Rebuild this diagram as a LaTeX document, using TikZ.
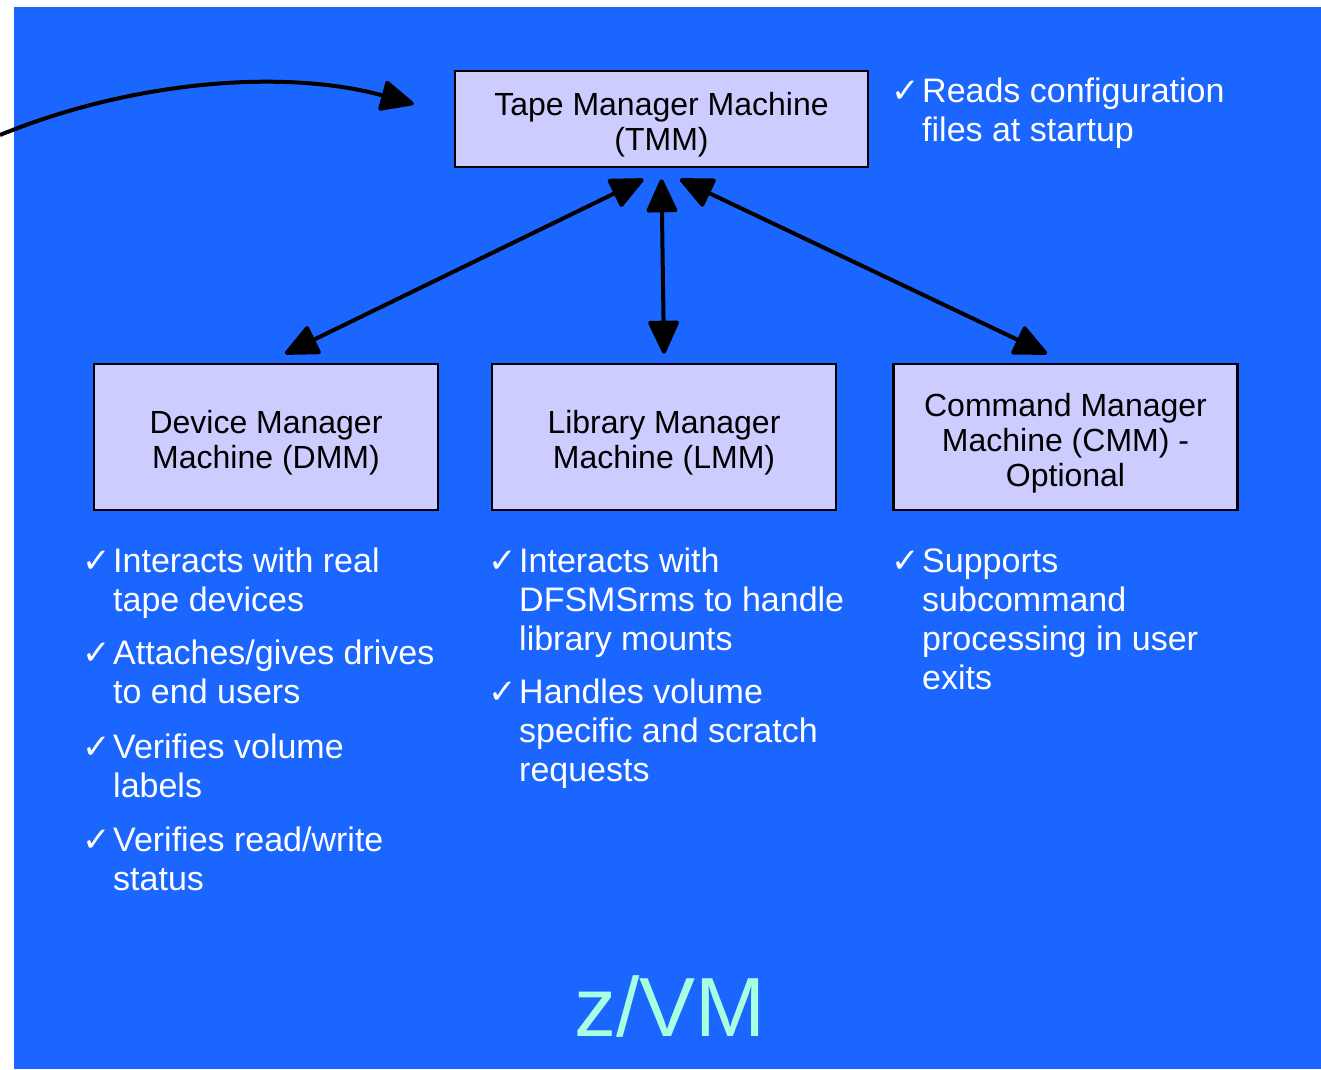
\documentclass[tikz,border=0pt]{standalone}
\usepackage{fontspec}
\setmainfont{Liberation Sans}
\newfontfamily\symfont{DejaVu Sans}
\usetikzlibrary{arrows.meta}

\definecolor{bgblue}{RGB}{26,102,255}
\definecolor{boxfill}{RGB}{204,204,255}
\definecolor{zvmtext}{RGB}{168,255,226}

\newcommand{\chk}{\llap{{\symfont\fontsize{34}{34}\selectfont ✓}\hspace{2pt}}}
\newcommand{\boxstrut}{\rule{0pt}{35pt}}

\begin{document}
\begin{tikzpicture}[x=1pt, y=-1pt,
		machine/.style={draw, line width=2.5pt, fill=boxfill, align=center, inner sep=0pt,
			font={\fontsize{32}{35}\selectfont}},
		link/.style={line width=4pt, line join=round,
			{Triangle[length=36pt,width=32pt,round]}-{Triangle[length=36pt,width=32pt,round]}},
		note/.style={text=white, align=left, anchor=base west, inner sep=0pt,
			font={\fontsize{34}{39}\selectfont}}]
		
		\def \boxw {344}
		\def \boxh {146}
		\def \boxy {437}
		
		\useasboundingbox (0,0) rectangle (1321,1069);
		\fill[bgblue] (14,7) rectangle (1321,1069);
		
		\node[machine, minimum width=413pt, minimum height=96pt] (tmm) at (661.5,119)
			{\boxstrut Tape Manager Machine\\(TMM)};
		
		\foreach \name/\cx/\txt in {dmm/266/{Device Manager\\Machine (DMM)},
			lmm/664/{Library Manager\\Machine (LMM)},
			cmm/1065.5/{Command Manager\\Machine (CMM) -\\Optional}}
		{
			\node[machine, minimum width=\boxw pt, minimum height=\boxh pt] (\name) at (\cx,\boxy)
				{\boxstrut\txt};
		}
		
		% arrows between the manager machines
		\foreach \name/\dx/\ex in {dmm/-18/19, lmm/0/0, cmm/18.5/-18.5}
		{
			\draw[link] ([xshift=\dx pt, yshift=-11pt]tmm.south) -- ([xshift=\ex pt, yshift=9pt]\name.north);
		}
		
		\coordinate (feed) at (0,135);
		\draw[line width=4pt, -{Triangle[length=36pt,width=32pt,round]}]
			(feed) .. controls (140,78) and (290,70) .. ([xshift=-40pt, yshift=15pt]tmm.west);
		
		% notes, placed at the baseline of their last line
		\node[note] (tmmnote) at (922,141) {\chk Reads configuration\\files at startup};
		
		\node[note] (dmmnote1) at (113,611) {\chk Interacts with real\\tape devices};
		\node[note] (dmmnote2) at (113,703) {\chk Attaches/gives drives\\to end users};
		\node[note] (dmmnote3) at (113,797) {\chk Verifies volume\\labels};
		\node[note] (dmmnote4) at (113,890) {\chk Verifies read/write\\status};
		
		\node[note] (lmmnote1) at (519,650) {\chk Interacts with\\DFSMSrms to handle\\library mounts};
		\node[note] (lmmnote2) at (519,781) {\chk Handles volume\\specific and scratch\\requests};
		
		\node[note] (cmmnote) at (922,689) {\chk Supports\\subcommand\\processing in user\\exits};
		
		\node[text=zvmtext, anchor=base, inner sep=0pt, font={\fontsize{84}{84}\selectfont}] (zvm)
			at (670,1036) {z/VM};
		
\end{tikzpicture}
\end{document}
